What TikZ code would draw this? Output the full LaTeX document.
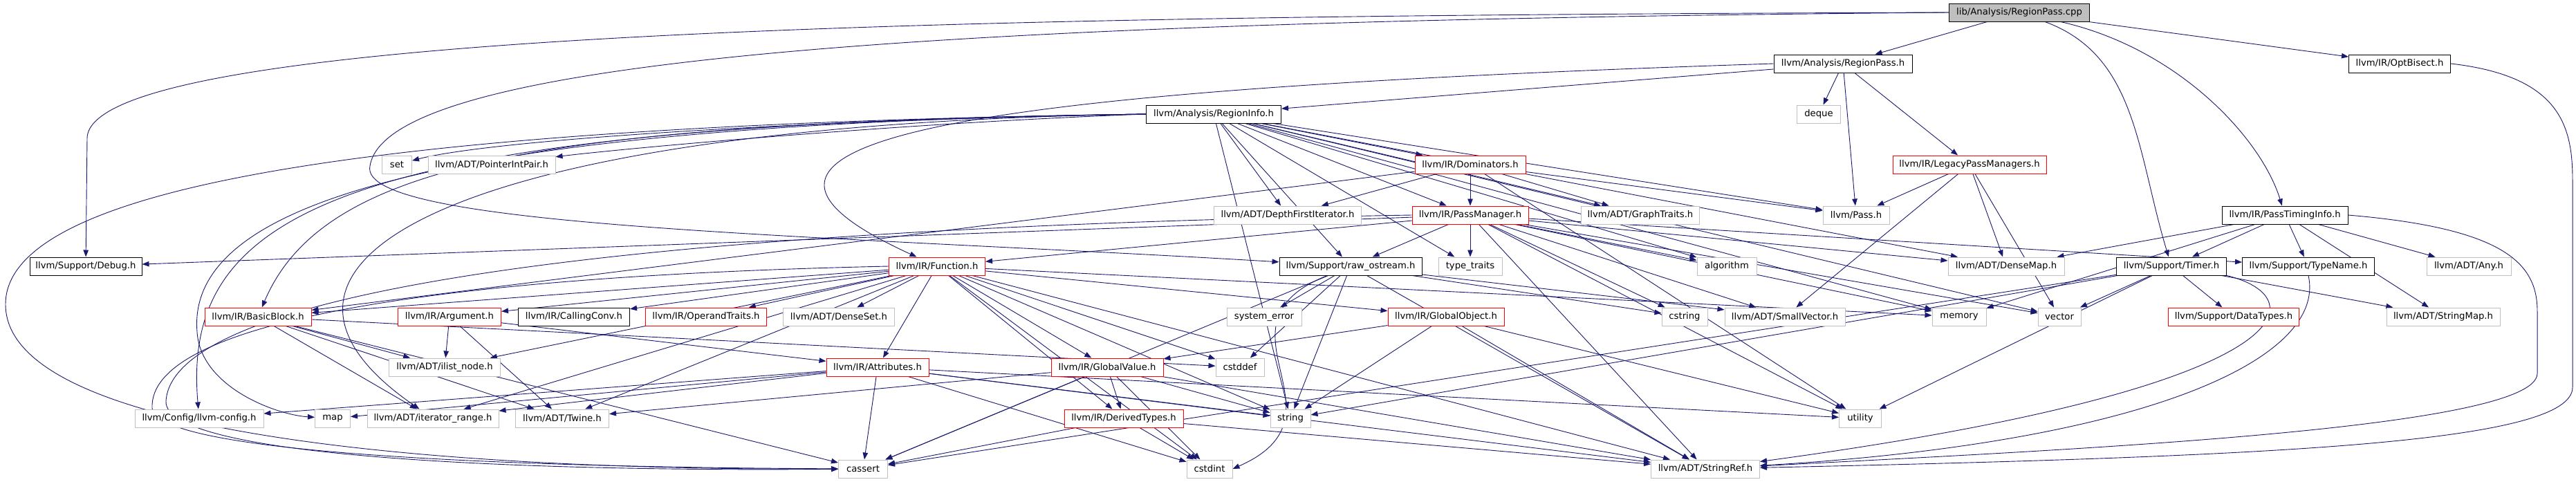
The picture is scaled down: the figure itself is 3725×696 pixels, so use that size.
\documentclass[tikz,border=0pt]{standalone}
\usepackage{fontspec}
\setmainfont{DejaVu Sans}
\usetikzlibrary{arrows.meta,backgrounds}
\definecolor{edgeBlue}{HTML}{191970}
\definecolor{boxGray}{HTML}{BFBFBF}
\definecolor{boxRed}{HTML}{FF0000}

\begin{document}
\begin{tikzpicture}[x=1pt, y=-1pt,
  hfile/.style={draw=boxGray, fill=white, line width=1pt, minimum height=26pt,
    inner sep=0pt, font=\fontsize{13.2}{15}\selectfont},
  hred/.style={hfile, draw=boxRed},
  hdoc/.style={hfile, draw=black},
  hroot/.style={hfile, draw=black, fill=boxGray},
  incl/.style={-{Triangle[length=10pt,width=7.5pt]}, draw=edgeBlue, line width=0.9pt},
]
\useasboundingbox (0,0) rectangle (3725,696);

% === top ===
\node[hroot, minimum width=203pt] (cpp) at (2920,18) {lib/Analysis/RegionPass.cpp};
\node[hdoc, minimum width=200pt] (rpassh) at (2665,92) {llvm/Analysis/RegionPass.h};
\node[hdoc, minimum width=147pt] (optbisect) at (3470,92) {llvm/IR/OptBisect.h};
\node[hdoc, minimum width=195pt] (rinfo) at (1755,165) {llvm/Analysis/RegionInfo.h};
\node[hfile, minimum width=63pt] (deque) at (2630,165) {deque};

% === row 3 / 4 ===
\node[hfile, minimum width=43pt] (set) at (574,238) {set};
\node[hfile, minimum width=184pt] (pip) at (711,238) {llvm/ADT/PointerIntPair.h};
\node[hred, minimum width=160pt] (dom) at (2126,238) {llvm/IR/Dominators.h};
\node[hred, minimum width=222pt] (legacy) at (2848,238) {llvm/IR/LegacyPassManagers.h};
\node[hfile, minimum width=213pt] (dfi) at (1862,311) {llvm/ADT/DepthFirstIterator.h};
\node[hred, minimum width=168pt] (pm) at (2126,311) {llvm/IR/PassManager.h};
\node[hfile, minimum width=171pt] (gt) at (2372,311) {llvm/ADT/GraphTraits.h};
\node[hfile, minimum width=96pt] (pass) at (2684,311) {llvm/Pass.h};
\node[hdoc, minimum width=182pt] (pti) at (3304,311) {llvm/IR/PassTimingInfo.h};

% === row 5 ===
\node[hdoc, minimum width=162pt] (debug) at (124,385) {llvm/Support/Debug.h};
\node[hred, minimum width=139pt] (func) at (1355,385) {llvm/IR/Function.h};
\node[hdoc, minimum width=206pt] (ros) at (1953,385) {llvm/Support/raw\_ostream.h};
\node[hfile, minimum width=92pt] (tt) at (2126,385) {type\_traits};
\node[hfile, minimum width=86pt] (algo) at (2497,385) {algorithm};
\node[hfile, minimum width=168pt] (dmap) at (2901,385) {llvm/ADT/DenseMap.h};
\node[hdoc, minimum width=159pt] (timer) at (3140,385) {llvm/Support/Timer.h};
\node[hdoc, minimum width=191pt] (tname) at (3338,385) {llvm/Support/TypeName.h};
\node[hfile, minimum width=122pt] (any) at (3570,385) {llvm/ADT/Any.h};

% === row 6 ===
\node[hred, minimum width=154pt] (bb) at (373,458) {llvm/IR/BasicBlock.h};
\node[hred, minimum width=149pt] (arg) at (650,458) {llvm/IR/Argument.h};
\node[hdoc, minimum width=161pt] (cc) at (830,458) {llvm/IR/CallingConv.h};
\node[hred, minimum width=175pt] (ot) at (1021,458) {llvm/IR/OperandTraits.h};
\node[hfile, minimum width=161pt] (dset) at (1213,458) {llvm/ADT/DenseSet.h};
\node[hfile, minimum width=108pt] (syserr) at (1828,458) {system\_error};
\node[hred, minimum width=168pt] (gobj) at (2091,458) {llvm/IR/GlobalObject.h};
\node[hfile, minimum width=66pt] (cstring) at (2436,458) {cstring};
\node[hfile, minimum width=174pt] (svec) at (2581,458) {llvm/ADT/SmallVector.h};
\node[hfile, minimum width=78pt] (memory) at (2833,458) {memory};
\node[hfile, minimum width=62pt] (vector) at (2978,458) {vector};
\node[hred, minimum width=189pt] (dtypes) at (3230,458) {llvm/Support/DataTypes.h};
\node[hfile, minimum width=164pt] (smap) at (3533,458) {llvm/ADT/StringMap.h};

% === row 7 ===
\node[hfile, minimum width=161pt] (ilist) at (643,531) {llvm/ADT/ilist\_node.h};
\node[hred, minimum width=148pt] (attr) at (1269,531) {llvm/IR/Attributes.h};
\node[hred, minimum width=162pt] (gval) at (1601,531) {llvm/IR/GlobalValue.h};
\node[hfile, minimum width=70pt] (cstddef) at (1793,531) {cstddef};

% === row 8 / 9 ===
\node[hfile, minimum width=186pt] (config) at (288,605) {llvm/Config/llvm-config.h};
\node[hfile, minimum width=51pt] (map) at (481,605) {map};
\node[hfile, minimum width=190pt] (irange) at (626,605) {llvm/ADT/iterator\_range.h};
\node[hfile, minimum width=135pt] (twine) at (813,605) {llvm/ADT/Twine.h};
\node[hred, minimum width=172pt] (dertypes) at (1625,605) {llvm/IR/DerivedTypes.h};
\node[hfile, minimum width=58pt] (string) at (1866,605) {string};
\node[hfile, minimum width=61pt] (utility) at (2690,605) {utility};
\node[hfile, minimum width=71pt] (cassert) at (1248,678) {cassert};
\node[hfile, minimum width=66pt] (cstdint) at (1749,678) {cstdint};
\node[hfile, minimum width=157pt] (sref) at (2466,678) {llvm/ADT/StringRef.h};

% === includes ===
\begin{scope}[on background layer]
  \foreach \t in {rpassh,optbisect} \draw[incl] (cpp) -- (\t);
  \draw[incl] (cpp) .. controls (3150,70) and (3270,200) .. (pti);
  \draw[incl] (cpp) .. controls (3090,80) and (3090,220) .. (timer);
  \draw[incl] (cpp.west) .. controls (1500,22) and (128,40) .. (126,200) -- (debug);
  \draw[incl] (cpp.west) .. controls (1400,30) and (560,80) .. (535,240)
    .. controls (515,330) and (1200,340) .. (ros);

  \foreach \t in {rinfo,legacy,pass,deque} \draw[incl] (rpassh) -- (\t);
  \draw[incl] (rpassh.west) .. controls (1400,130) and (950,200) .. (func);

  \foreach \t in {dmap,dfi,gt,dom,pm,pass,ros,algo,memory,string,tt,vector}
    \draw[incl] (rinfo) -- (\t);
  \draw[incl] (rinfo.west) .. controls (1100,175) and (700,205) .. (set);
  \draw[incl] (rinfo.west) .. controls (1300,178) and (900,215) .. (pip);
  \draw[incl] (rinfo.west) .. controls (800,178) and (470,230) .. (bb);
  \draw[incl] (rinfo.west) .. controls (500,180) and (262,300) .. (config);
  \draw[incl] (rinfo.west) .. controls (600,180) and (270,300) .. (285,480)
    .. controls (290,560) and (400,600) .. (map);
  \draw[incl] (rinfo.west) .. controls (650,180) and (300,380) .. (irange);
  \draw[incl] (rinfo.west) .. controls (600,180) and (8,260) .. (8,440)
    .. controls (8,640) and (700,680) .. (cassert);

  \foreach \t in {dfi,bb,pm,utility,gt,pass} \draw[incl] (dom) -- (\t);
  \foreach \t in {pass,svec,vector,dmap} \draw[incl] (legacy) -- (\t);
  \foreach \t in {dmap,svec,sref,func,debug,tname,ros,algo,cstring,memory,tt,utility,vector}
    \draw[incl] (pm) -- (\t);
  \draw[incl] (pm.west) .. controls (900,330) and (250,420) .. (240,580)
    .. controls (235,665) and (800,682) .. (cassert);

  \foreach \t in {dmap,memory,timer,tname,any,smap} \draw[incl] (pti) -- (\t);
  \draw[incl] (pti.east) .. controls (3620,330) and (3669,380) .. (3669,450) -- (3669,540)
    .. controls (3669,620) and (3000,650) .. (sref);
  \draw[incl] (optbisect.east) .. controls (3700,110) and (3720,180) .. (3720,260) -- (3720,560)
    .. controls (3720,640) and (3300,660) .. (sref);

  \foreach \t in {dset,sref,twine,ilist,irange,arg,attr,bb,cc,dertypes,gobj,gval,ot,cstddef,cstdint,memory,string}
    \draw[incl] (func) -- (\t);
  \draw[incl] (func.west) .. controls (600,400) and (215,470) .. (220,590)
    .. controls (225,660) and (800,676) .. (cassert);
  \foreach \t in {svec,sref,cassert,cstddef,cstring,string,syserr} \draw[incl] (ros) -- (\t);
  \draw[incl] (ros) .. controls (1740,470) and (1960,600) .. (cstdint.east);

  \foreach \t in {smap,dtypes,cassert,string,utility,vector} \draw[incl] (timer) -- (\t);
  \draw[incl] (timer.south east) .. controls (3350,430) and (3340,560) .. (sref);
  \draw[incl] (tname.south) .. controls (3365,520) and (3100,640) .. (sref);

  \foreach \t in {twine,ilist,irange,cassert,cstddef} \draw[incl] (bb) -- (\t);
  \foreach \t in {twine,ilist,attr} \draw[incl] (arg) -- (\t);
  \foreach \t in {cassert,cstdint,string,utility,sref,config,map,irange} \draw[incl] (attr) -- (\t);
  \foreach \t in {sref,gval,string,utility} \draw[incl] (gobj) -- (\t);
  \foreach \t in {sref,twine,dertypes,cassert,cstdint,string} \draw[incl] (gval) -- (\t);
  \foreach \t in {sref,cassert,cstdint} \draw[incl] (dertypes) -- (\t);
\end{scope}

\end{tikzpicture}
\end{document}
